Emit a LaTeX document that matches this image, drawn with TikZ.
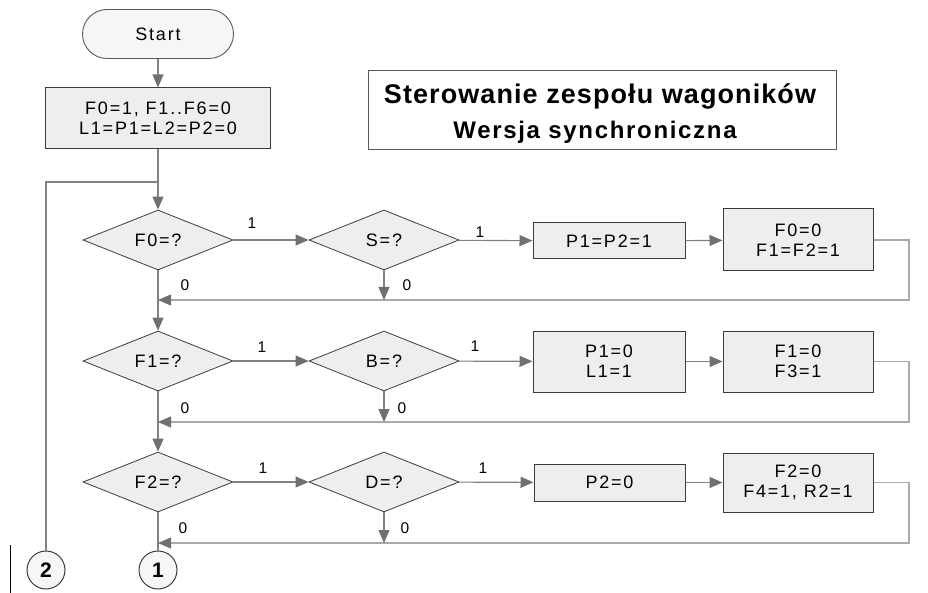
\documentclass[tikz,border=0pt]{standalone}
\usepackage{fontspec}
\setmainfont{Liberation Sans}
\newfontfamily\boxfont[LetterSpace=10]{Liberation Sans}
\newfontfamily\titlefont[LetterSpace=4]{Liberation Sans}
\newfontfamily\subtitlefont[LetterSpace=7]{Liberation Sans}
\usetikzlibrary{arrows.meta,shapes.geometric}

\definecolor{flowline}{HTML}{828282}
\definecolor{backline}{HTML}{AAAAAA}
\definecolor{tipgray}{HTML}{707070}
\definecolor{boxfill}{HTML}{EEEEEE}
\definecolor{boxedge}{HTML}{3C3C3C}
\definecolor{termedge}{HTML}{5A5A5A}

\begin{document}
\begin{tikzpicture}[x=1pt,y=-1pt,
  every node/.style={font=\boxfont\fontsize{18}{20}\selectfont, align=center, inner sep=0pt},
  terminal/.style={draw=termedge, fill=boxfill!50!white, line width=0.9pt, rounded corners=24.5pt,
    minimum width=151pt, minimum height=49pt},
  actbox/.style={draw=boxedge, fill=boxfill, line width=1pt, rectangle},
  decision/.style={draw=boxedge, fill=boxfill, line width=0.8pt, diamond, aspect=1,
    minimum width=150pt, minimum height=60pt},
  connector/.style={draw=boxedge, fill=boxfill!50!white, circle, line width=1pt, minimum size=38pt,
    font=\boxfont\fontsize{21}{24}\selectfont\bfseries},
  branch/.style={font=\boxfont\fontsize{15.5}{18}\selectfont},
  flow/.style={draw=flowline, line width=1.1pt, -{Triangle[length=13pt,width=11pt,color=tipgray]}},
  plain/.style={draw=flowline, line width=1.1pt},
  back/.style={draw=backline, line width=1.1pt, -{Triangle[length=13pt,width=11pt,color=tipgray]}},
]
\useasboundingbox (0,0) rectangle (928,593);

% start and initialisation
\node[terminal] (start) at (158,34) {Start};
\node[actbox, minimum width=225pt, minimum height=61pt] (init) at (158,118.5)
  {F0=1, F1..F6=0\\L1=P1=L2=P2=0};

% title
\node[draw=termedge, line width=1pt, fill=white, minimum width=468pt, minimum height=79pt] (ttl) at (602,110.5) {};
\node[anchor=base, font=\titlefont\fontsize{27}{30}\selectfont\bfseries] (ttl1) at (600,104) {Sterowanie zespołu wagoników};
\node[anchor=base, font=\subtitlefont\fontsize{24}{28}\selectfont\bfseries] (ttl2) at (595,139) {Wersja synchroniczna};

% row 1
\node[decision] (f0) at (158,240) {F0=?};
\node[decision] (s)  at (384,240) {S=?};
\node[actbox, minimum width=152pt, minimum height=36pt] (p1) at (609,241) {P1=P2=1};
\node[actbox, minimum width=150pt, minimum height=62pt] (f0b) at (798,240) {F0=0\\F1=F2=1};

% row 2
\node[decision] (f1) at (158,361) {F1=?};
\node[decision] (b)  at (384,361) {B=?};
\node[actbox, minimum width=152pt, minimum height=61pt] (p1b) at (609,361.5) {P1=0\\L1=1};
\node[actbox, minimum width=150pt, minimum height=61pt] (f1b) at (798,361.5) {F1=0\\F3=1};

% row 3
\node[decision] (f2) at (158,482) {F2=?};
\node[decision] (d)  at (384,482) {D=?};
\node[actbox, minimum width=151pt, minimum height=37pt] (p2) at (609.5,482.5) {P2=0};
\node[actbox, minimum width=150pt, minimum height=59pt] (f2b) at (798,482.5) {F2=0\\F4=1, R2=1};

% off-page connectors
\node[connector] (c2) at (46,570) {2};
\node[connector] (c1) at (158,570) {1};

% junction points
\coordinate (j0) at (158,182);
\coordinate (m1) at (158,300);
\coordinate (r1) at (909,300);
\coordinate (m2) at (158,422);
\coordinate (r2) at (909,422);
\coordinate (m3) at (158,543);
\coordinate (r3) at (909,543);

% main flow
\draw[flow] (start) -- (init);
\draw[plain] (init) -- (j0);
\draw[flow] (j0) -- (f0);
\draw[plain] (c2) -- (c2 |- j0) -- (j0);

\draw[flow] (f0) -- (s);
\draw[flow] (s) -- (p1);
\draw[flow] (p1) -- (f0b);
\draw[back] (f0b.east) -| (r1) -- (m1);
\draw[flow] (s) -- (s |- m1);
\draw[flow] (f0) -- (f1);

\draw[flow] (f1) -- (b);
\draw[flow] (b) -- (p1b);
\draw[flow] (p1b) -- (f1b);
\draw[back] (f1b.east) -| (r2) -- (m2);
\draw[flow] (b) -- (b |- m2);
\draw[flow] (f1) -- (f2);

\draw[flow] (f2) -- (d);
\draw[flow] (d) -- (p2);
\draw[flow] (p2) -- (f2b);
\draw[back] (f2b.east) -| (r3) -- (m3);
\draw[flow] (d) -- (d |- m3);
\draw[plain] (f2) -- (c1);

% branch labels
\node[branch] (y1) at (252,223) {1};
\node[branch] (y2) at (480,232) {1};
\node[branch] (n1) at (185,285) {0};
\node[branch] (n2) at (407,285) {0};
\node[branch] (y3) at (262,347) {1};
\node[branch] (y4) at (475,346) {1};
\node[branch] (n3) at (185,408) {0};
\node[branch] (n4) at (402,408) {0};
\node[branch] (y5) at (263,468) {1};
\node[branch] (y6) at (483,468) {1};
\node[branch] (n5) at (183,528) {0};
\node[branch] (n6) at (405,528) {0};

% margin mark
\draw[black, line width=1pt] (10,545) -- (10,593);
\end{tikzpicture}
\end{document}
